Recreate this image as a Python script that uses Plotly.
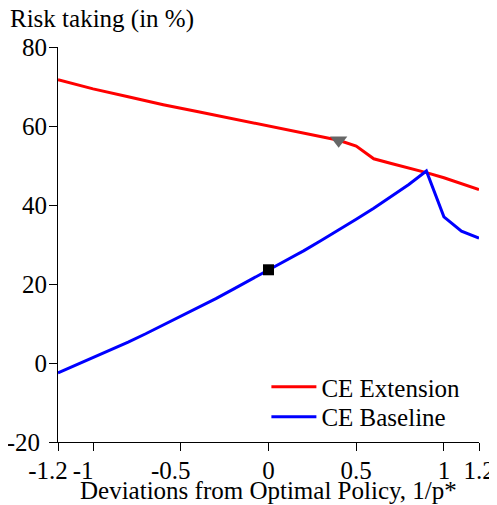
import plotly.graph_objects as go

# Data
x_ext = [-1.2, -1.0, -0.8, -0.6, -0.4, -0.2, 0.0, 0.2, 0.4, 0.5, 0.6, 0.7, 0.8, 0.9, 1.0, 1.1, 1.2]
y_ext = [71.7, 69.4, 67.4, 65.4, 63.6, 61.8, 59.9, 58.1, 56.4, 54.9, 51.7, 50.5, 49.4, 48.2, 46.9, 45.4, 43.9]

x_base = [-1.2, -1.1, -1.0, -0.9, -0.8, -0.7, -0.6, -0.5, -0.4, -0.3, -0.2, -0.1, 0.0,
          0.1, 0.2, 0.3, 0.4, 0.5, 0.6, 0.7, 0.8, 0.9, 1.0, 1.1, 1.2]
y_base = [-2.5, -0.6, 1.3, 3.3, 5.3, 7.4, 9.6, 11.8, 14.0, 16.3, 18.7, 21.1, 23.6,
          26.0, 28.4, 31.0, 33.6, 36.4, 39.2, 42.2, 45.2, 48.6, 37.0, 33.4, 31.6]

marker_ext = (0.4, 56.4)
marker_base = (0.0, 23.6)

# tick labels (negative labels drawn on an overlay axis so they can sit left of their tick)
x_tickvals = [-1.2, -1.0, -0.5, 0.0, 0.5, 1.0, 1.2]
x_ticktext_pos = ["", "", "", "0", "0.5", "1", "1.2"]
x_neg_vals = [-1.2, -1.0, -0.5]
x_neg_text = ["-1.2", "-1", "-0.5"]
y_tickvals = [-20, 0, 20, 40, 60, 80]
y_ticktext_pos = ["", "0", "20", "40", "60", "80"]
y_neg_vals = [-20]
y_neg_text = ["-20"]

X_RANGE = [-1.2, 1.2]
Y_RANGE = [-20, 80]

FONT = "Liberation Serif"
FS = 25

fig = go.Figure()
fig.add_trace(go.Scatter(x=x_ext, y=y_ext, mode="lines", name="CE Extension",
                         line=dict(color="#ff0000", width=3), legend="legend"))
fig.add_trace(go.Scatter(x=x_base, y=y_base, mode="lines", name="CE Baseline",
                         line=dict(color="#0000ff", width=3), legend="legend2"))
fig.add_trace(go.Scatter(x=[marker_ext[0]], y=[marker_ext[1]], mode="markers", showlegend=False,
                         marker=dict(symbol="triangle-down", size=15, color="#666666")))
fig.add_trace(go.Scatter(x=[marker_base[0]], y=[marker_base[1]], mode="markers", showlegend=False,
                         marker=dict(symbol="square", size=11, color="#000000")))
# empty carrier trace for the overlay axes
fig.add_trace(go.Scatter(x=[None], y=[None], xaxis="x2", yaxis="y2", mode="lines",
                         showlegend=False, hoverinfo="skip"))

leg_common = dict(xanchor="left", yanchor="middle", bgcolor="rgba(0,0,0,0)",
                  font=dict(family=FONT, size=FS), itemwidth=45, borderwidth=0)

axis_common = dict(automargin=False, showgrid=False, zeroline=False, tickangle=0,
                   tickfont=dict(family=FONT, size=FS, color="black"))

fig.update_layout(
    width=489, height=497,
    margin=dict(l=50, r=18, t=39, b=63, autoexpand=False),
    paper_bgcolor="white", plot_bgcolor="white",
    font=dict(family=FONT, size=FS, color="black"),
    showlegend=True,
    legend=dict(x=0.495, y=0.139, **leg_common),
    legend2=dict(x=0.495, y=0.0633, **leg_common),
    xaxis=dict(range=X_RANGE, tickvals=x_tickvals, ticktext=x_ticktext_pos,
               showline=True, linecolor="black", linewidth=1,
               ticks="outside", ticklen=8, tickcolor="black", ticklabelstandoff=-2,
               **axis_common),
    yaxis=dict(range=Y_RANGE, tickvals=y_tickvals, ticktext=y_ticktext_pos,
               showline=True, linecolor="black", linewidth=1,
               ticks="outside", ticklen=8, tickcolor="black", ticklabelstandoff=-3,
               **axis_common),
    xaxis2=dict(range=X_RANGE, overlaying="x", anchor="y2", side="bottom",
                tickvals=x_neg_vals, ticktext=x_neg_text, showline=False,
                ticks="outside", ticklen=8, tickcolor="rgba(0,0,0,0)",
                ticklabelstandoff=-2, ticklabelshift=-10, **axis_common),
    yaxis2=dict(range=Y_RANGE, overlaying="y", anchor="x2", side="left",
                tickvals=y_neg_vals, ticktext=y_neg_text, showline=False,
                ticks="outside", ticklen=8, tickcolor="rgba(0,0,0,0)",
                ticklabelstandoff=4, **axis_common),
    annotations=[
        dict(text="Risk taking (in %)", xref="paper", yref="paper",
             x=-0.1188, y=1.072, xanchor="left", yanchor="middle",
             showarrow=False, font=dict(family=FONT, size=FS)),
        dict(text="Deviations from Optimal Policy, 1/p*", xref="paper", yref="paper",
             x=0.5, y=-0.1225, xanchor="center", yanchor="middle",
             showarrow=False, font=dict(family=FONT, size=FS)),
    ],
)

fig.write_html("out.html")
